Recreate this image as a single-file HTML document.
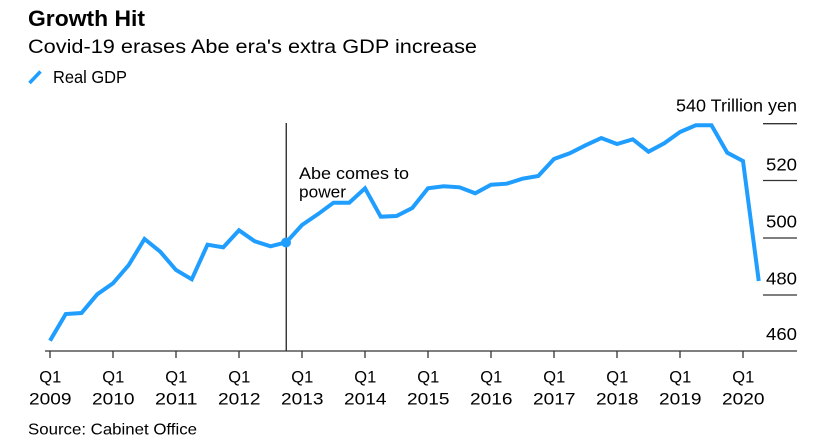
<!DOCTYPE html>
<html><head><meta charset="utf-8"><style>
html,body{margin:0;padding:0;background:#fff;}
svg{display:block;font-family:"Liberation Sans",Arial,sans-serif;}
</style></head><body>
<svg width="824" height="440" viewBox="0 0 824 440" xmlns="http://www.w3.org/2000/svg">
<rect width="824" height="440" fill="#fff"/>
<text x="28" y="26" font-size="22" font-weight="bold" fill="#000" textLength="117" lengthAdjust="spacingAndGlyphs">Growth Hit</text>
<text x="28" y="53" font-size="19.5" fill="#000" textLength="449" lengthAdjust="spacingAndGlyphs">Covid-19 erases Abe era's extra GDP increase</text>
<line x1="29.5" y1="83" x2="40.5" y2="71.5" stroke="#1f9eff" stroke-width="3.5" stroke-linecap="butt"/>
<text x="53" y="83" font-size="17.5" fill="#000" textLength="74" lengthAdjust="spacingAndGlyphs">Real GDP</text>

<!-- y gridlines -->
<g stroke="#333" stroke-width="1.3">
<line x1="763" y1="123.7" x2="797" y2="123.7"/>
<line x1="763" y1="180.5" x2="797" y2="180.5"/>
<line x1="763" y1="238" x2="797" y2="238"/>
<line x1="763" y1="295" x2="797" y2="295"/>
</g>
<g font-size="17.5" fill="#000">
<text x="676" y="111.7" textLength="121" lengthAdjust="spacingAndGlyphs">540 Trillion yen</text>
<text x="766" y="170.3" textLength="31" lengthAdjust="spacingAndGlyphs">520</text>
<text x="766" y="227.3" textLength="31" lengthAdjust="spacingAndGlyphs">500</text>
<text x="766" y="284.3" textLength="31" lengthAdjust="spacingAndGlyphs">480</text>
<text x="766" y="340" textLength="31" lengthAdjust="spacingAndGlyphs">460</text>
</g>

<!-- annotation -->
<line x1="286.25" y1="123" x2="286.25" y2="351" stroke="#222" stroke-width="1.3"/>
<text x="299" y="179" font-size="16.5" fill="#000" textLength="110" lengthAdjust="spacingAndGlyphs">Abe comes to</text>
<text x="299" y="197.3" font-size="16.5" fill="#000" textLength="47" lengthAdjust="spacingAndGlyphs">power</text>

<!-- x axis -->
<line x1="45" y1="351" x2="797" y2="351" stroke="#333" stroke-width="1.3"/>
<g stroke="#333" stroke-width="1.3">
<line x1="50" y1="351" x2="50" y2="358"/>
<line x1="113" y1="351" x2="113" y2="358"/>
<line x1="176" y1="351" x2="176" y2="358"/>
<line x1="239" y1="351" x2="239" y2="358"/>
<line x1="302" y1="351" x2="302" y2="358"/>
<line x1="365" y1="351" x2="365" y2="358"/>
<line x1="428" y1="351" x2="428" y2="358"/>
<line x1="491" y1="351" x2="491" y2="358"/>
<line x1="554" y1="351" x2="554" y2="358"/>
<line x1="617" y1="351" x2="617" y2="358"/>
<line x1="680" y1="351" x2="680" y2="358"/>
<line x1="743" y1="351" x2="743" y2="358"/>
</g>
<g font-size="17" fill="#000">
<text x="39.3" y="382.7" textLength="22" lengthAdjust="spacingAndGlyphs">Q1</text><text x="29" y="404.3" textLength="42.5" lengthAdjust="spacingAndGlyphs">2009</text>
<text x="102.3" y="382.7" textLength="22" lengthAdjust="spacingAndGlyphs">Q1</text><text x="92" y="404.3" textLength="42.5" lengthAdjust="spacingAndGlyphs">2010</text>
<text x="165.3" y="382.7" textLength="22" lengthAdjust="spacingAndGlyphs">Q1</text><text x="155" y="404.3" textLength="42.5" lengthAdjust="spacingAndGlyphs">2011</text>
<text x="228.3" y="382.7" textLength="22" lengthAdjust="spacingAndGlyphs">Q1</text><text x="218" y="404.3" textLength="42.5" lengthAdjust="spacingAndGlyphs">2012</text>
<text x="291.3" y="382.7" textLength="22" lengthAdjust="spacingAndGlyphs">Q1</text><text x="281" y="404.3" textLength="42.5" lengthAdjust="spacingAndGlyphs">2013</text>
<text x="354.3" y="382.7" textLength="22" lengthAdjust="spacingAndGlyphs">Q1</text><text x="344" y="404.3" textLength="42.5" lengthAdjust="spacingAndGlyphs">2014</text>
<text x="417.3" y="382.7" textLength="22" lengthAdjust="spacingAndGlyphs">Q1</text><text x="407" y="404.3" textLength="42.5" lengthAdjust="spacingAndGlyphs">2015</text>
<text x="480.3" y="382.7" textLength="22" lengthAdjust="spacingAndGlyphs">Q1</text><text x="470" y="404.3" textLength="42.5" lengthAdjust="spacingAndGlyphs">2016</text>
<text x="543.3" y="382.7" textLength="22" lengthAdjust="spacingAndGlyphs">Q1</text><text x="533" y="404.3" textLength="42.5" lengthAdjust="spacingAndGlyphs">2017</text>
<text x="606.3" y="382.7" textLength="22" lengthAdjust="spacingAndGlyphs">Q1</text><text x="596" y="404.3" textLength="42.5" lengthAdjust="spacingAndGlyphs">2018</text>
<text x="669.3" y="382.7" textLength="22" lengthAdjust="spacingAndGlyphs">Q1</text><text x="659" y="404.3" textLength="42.5" lengthAdjust="spacingAndGlyphs">2019</text>
<text x="732.3" y="382.7" textLength="22" lengthAdjust="spacingAndGlyphs">Q1</text><text x="722" y="404.3" textLength="42.5" lengthAdjust="spacingAndGlyphs">2020</text>
</g>

<!-- series -->
<polyline fill="none" stroke="#1f9eff" stroke-width="4" stroke-linejoin="miter" stroke-linecap="butt" points="
50,340.7 65.75,314 81.5,313 97.25,294.3 113,283.3 128.75,265 144.5,239 160.25,251.7 176,270 191.75,279.3
207.5,244.7 223.25,247.3 239,230.3 254.75,241.3 270.5,246.3 286.25,242.3 302,225 317.75,214.3 333.5,202.7 349.25,202.7
365,188.3 380.75,216.7 396.5,216 412.25,208 428,188.3 443.75,186.3 459.5,187.3 475.25,193.3 491,184.7 506.75,183.7
522.5,178.7 538.25,176 554,159 569.75,153.3 585.5,145.3 601.25,138 617,144 632.75,139.3 648.5,151.7 664.25,143.3
680,132 695.75,125.3 711.5,125.3 727.25,152.7 743,161 758.75,281"/>
<circle cx="286" cy="242.5" r="5" fill="#1f9eff"/>

<text x="28" y="434.3" font-size="16" fill="#000" textLength="169" lengthAdjust="spacingAndGlyphs">Source: Cabinet Office</text>
</svg>
</body></html>
